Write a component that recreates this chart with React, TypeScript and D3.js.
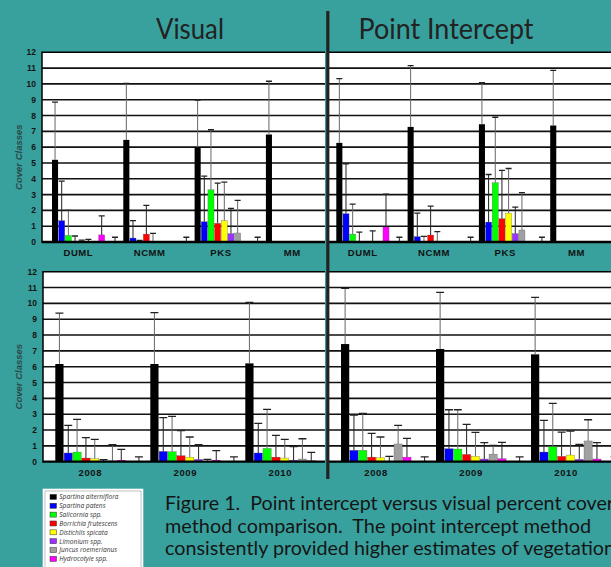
import * as d3 from 'd3'

// species shown in the legend, plus two unnamed slots Excel left in each cluster
const SPECIES = [
  'Spartina alterniflora',
  'Spartina patens',
  'Salicornia spp.',
  'Borrichia frutescens',
  'Distichlis spicata',
  'Limonium spp.',
  'Juncus roemerianus',
  'Hydrocotyle spp.',
]
const SLOTS = [...SPECIES, 'slot9', 'slot10']
const COLORS = ['#000000', '#0000ff', '#00ff00', '#ff0000', '#ffff00', '#9933ff', '#a0a0a0', '#ff00ff', 'none', 'none']

const SITES = ['DUML', 'NCMM', 'PKS', 'MM']
const YEARS = ['2008', '2009', '2010']
const Y_TICKS = [0, 1, 2, 3, 4, 5, 6, 7, 8, 9, 10, 11, 12]

// mean cover class per group x slot
const VISUAL_SITE_MEAN = [
  [5.2, 1.35, 0.42, 0.02, 0.03, 0.03, 0, 0.45, 0, 0],
  [6.46, 0.25, 0, 0.5, 0, 0, 0, 0, 0, 0],
  [6.0, 1.28, 3.3, 1.18, 1.35, 0.53, 0.57, 0, 0, 0],
  [6.8, 0, 0, 0, 0, 0, 0, 0, 0, 0],
]
const VISUAL_SITE_SD = [
  [3.65, 2.5, 1.58, 0.36, 0.09, 0.14, 0, 1.2, 0, 0.3],
  [3.58, 1.1, 0.1, 1.82, 0.55, 0, 0, 0, 0, 0.3],
  [2.97, 2.89, 3.8, 2.55, 2.44, 1.6, 2.06, 0, 0, 0.3],
  [3.37, 0, 0, 0, 0, 0, 0, 0, 0, 0],
]
const POINT_SITE_MEAN = [
  [6.27, 1.79, 0.5, 0.02, 0, 0.04, 0, 0.95, 0, 0],
  [7.28, 0.34, 0, 0.44, 0.02, 0, 0, 0, 0, 0],
  [7.45, 1.26, 3.75, 1.47, 1.83, 0.53, 0.76, 0, 0, 0],
  [7.37, 0, 0, 0, 0, 0, 0, 0, 0, 0],
]
const POINT_SITE_SD = [
  [4.07, 3.16, 1.9, 0.61, 0, 0.66, 0, 2.08, 0, 0.3],
  [3.88, 1.49, 0.36, 1.83, 0.63, 0, 0, 0, 0, 0.3],
  [2.63, 3.01, 4.14, 3.06, 2.82, 1.68, 2.36, 0, 0, 0.3],
  [3.49, 0, 0, 0, 0, 0, 0, 0, 0, 0],
]
const VISUAL_YEAR_MEAN = [
  [6.17, 0.55, 0.61, 0.23, 0.19, 0.05, 0.05, 0.1, 0, 0],
  [6.17, 0.65, 0.63, 0.38, 0.29, 0.15, 0.03, 0.1, 0, 0],
  [6.21, 0.55, 0.84, 0.29, 0.23, 0.1, 0.17, 0.06, 0, 0],
]
const VISUAL_YEAR_SD = [
  [3.22, 1.74, 2.06, 1.29, 1.22, 0.08, 1.02, 0.68, 0, 0.3],
  [3.24, 2.13, 2.23, 1.58, 1.27, 0.92, 0.12, 0.6, 0, 0.3],
  [3.85, 1.87, 2.47, 1.37, 1.18, 0.85, 1.28, 0.53, 0, 0.3],
]
const POINT_YEAR_MEAN = [
  [7.43, 0.72, 0.72, 0.29, 0.25, 0, 1.12, 0.29, 0, 0],
  [7.12, 0.82, 0.8, 0.46, 0.34, 0.17, 0.48, 0.19, 0, 0],
  [6.78, 0.61, 0.95, 0.34, 0.42, 0.15, 1.31, 0.17, 0, 0],
]
const POINT_YEAR_SD = [
  [3.52, 2.23, 2.33, 1.5, 1.31, 0.34, 1.17, 1.18, 0, 0.3],
  [3.57, 2.46, 2.48, 1.9, 1.51, 1.03, 0.55, 1.03, 0, 0.3],
  [3.6, 2.0, 2.73, 1.53, 1.52, 0.94, 1.34, 1.03, 0, 0.3],
]

const CAPTION = [
  'Figure 1.  Point intercept versus visual percent cover',
  'method comparison.  The point intercept method',
  'consistently provided higher estimates of vegetation',
]
const CAPTION_WIDTHS = [449, 426, 450]

const BG = '#38a19e'
const SANS = '"Liberation Sans", Arial, sans-serif'
const TITLE_FONT = 'Lato, "Open Sans", sans-serif'

interface PanelProps {
  id: string
  left: number
  right: number
  top: number
  bottom: number
  firstBar: number
  step: number
  padding: number
  groups: string[]
  means: number[][]
  sds: number[][]
  yAxis: boolean
  labelY: number
}

function Panel({ id, left, right, top, bottom, firstBar, step, padding, groups, means, sds, yAxis, labelY }: PanelProps) {
  const y = d3.scaleLinear().domain([0, 12]).range([bottom, top])
  const outer = padding / 2
  const start = firstBar - outer * step
  const x = d3.scaleBand<string>()
    .domain(groups)
    .range([start, start + groups.length * step])
    .paddingInner(padding)
    .paddingOuter(outer)
  const xs = d3.scaleBand<string>().domain(SLOTS).range([0, x.bandwidth()])
  const bw = xs.bandwidth()

  return (
    <g>
      <defs>
        <clipPath id={id}>
          <rect x={left} y={top - 5} width={right - left} height={bottom - top + 5} />
        </clipPath>
      </defs>
      <rect x={left} y={top} width={right - left} height={bottom - top} fill="#ffffff" />
      {/* horizontal grid at every cover class */}
      <path
        d={Y_TICKS.filter(t => t > 0 && t < 12).map(t => `M${left},${y(t)}H${right}`).join('')}
        fill="none" stroke="#111111" strokeWidth={1.6} />
      <g clipPath={`url(#${id})`}>
        {groups.map((g, gi) => (
          <g key={g} transform={`translate(${x(g)},0)`}>
            {SLOTS.map((s, si) => {
              const m = means[gi][si]
              if (m <= 0 || COLORS[si] === 'none') return null
              return (
                <rect key={s} x={xs(s)! + 0.3} width={bw - 0.6} y={y(m)} height={y(0) - y(m)}
                  fill={COLORS[si]} stroke={si === 0 ? 'none' : '#555'} strokeWidth={0.3} />
              )
            })}
            {SLOTS.map((s, si) => {
              const m = means[gi][si]
              const sd = sds[gi][si]
              if (sd <= 0) return null
              const cx = xs(s)! + bw / 2
              return (
                <g key={s}>
                  <line x1={cx} x2={cx} y1={y(m)} y2={y(m + sd)} stroke={si % 2 ? '#222' : '#666'} strokeWidth={1} />
                  <line x1={cx - bw * 0.45} x2={cx + bw * 0.45} y1={y(m + sd)} y2={y(m + sd)} stroke="#222" strokeWidth={1.3} />
                </g>
              )
            })}
          </g>
        ))}
      </g>
      <path d={`M${left},${top}H${right}`} stroke="#000000" strokeWidth={1.5} fill="none" />
      <path d={`M${left},${bottom}H${right}`} stroke="#000000" strokeWidth={2.3} fill="none" />
      {yAxis && (
        <g>
          <path d={`M${left},${top - 0.7}V${bottom + 1.1}`} stroke="#000000" strokeWidth={1.5} fill="none" />
          {Y_TICKS.map(t => (
            <text key={t} x={left - 6} y={y(t)} dy="0.35em" textAnchor="end" fontFamily={SANS}
              fontWeight="bold" fontSize={8.5} fill="#151515">{t}</text>
          ))}
          <text transform={`translate(22,${(top + bottom) / 2 + 10}) rotate(-90)`} textAnchor="middle"
            fontFamily={SANS} fontStyle="italic" fontWeight="bold" fontSize={9.5} fill="#2a4948">Cover Classes</text>
        </g>
      )}
      {groups.map(g => (
        <text key={g} x={x(g)! + x.bandwidth() * 0.4} y={labelY} textAnchor="middle" fontFamily={SANS}
          fontWeight="bold" fontSize={9.5} letterSpacing={0.6} fill="#111">{g}</text>
      ))}
    </g>
  )
}

export default function App() {
  const legendRows = d3.scaleLinear().domain([0, SPECIES.length - 1]).range([497, 559])
  return (
    <svg width={611} height={567} style={{ position: 'absolute', left: 0, top: 0 }}>
      <rect width={611} height={567} fill={BG} />
      <text x={156} y={39} fontFamily={TITLE_FONT} fontSize={28} fill="#222" textLength={68} lengthAdjust="spacingAndGlyphs">Visual</text>
      <text x={358.5} y={39} fontFamily={TITLE_FONT} fontSize={28} fill="#222" textLength={175} lengthAdjust="spacingAndGlyphs">Point Intercept</text>

      <Panel id="c1" left={42} right={325} top={52.3} bottom={242} firstBar={51.7} step={71.3} padding={0.065}
        groups={SITES} means={VISUAL_SITE_MEAN} sds={VISUAL_SITE_SD} yAxis labelY={255.5} />
      <Panel id="c2" left={329} right={611} top={52.3} bottom={242} firstBar={336} step={71.3} padding={0.065}
        groups={SITES} means={POINT_SITE_MEAN} sds={POINT_SITE_SD} yAxis={false} labelY={255.5} />
      <Panel id="c3" left={43} right={325} top={271.7} bottom={461.7} firstBar={55} step={95} padding={0.07}
        groups={YEARS} means={VISUAL_YEAR_MEAN} sds={VISUAL_YEAR_SD} yAxis labelY={475.5} />
      <Panel id="c4" left={329} right={611} top={271.7} bottom={461.7} firstBar={340.7} step={95} padding={0.07}
        groups={YEARS} means={POINT_YEAR_MEAN} sds={POINT_YEAR_SD} yAxis={false} labelY={475.5} />

      <line x1={327.8} x2={327.8} y1={11} y2={479} stroke="#222" strokeWidth={3.2} />

      <rect x={42.7} y={488.7} width={100.6} height={90} fill="#fff" />
      <rect x={45} y={491} width={96} height={90} fill="none" stroke="#999" strokeWidth={0.6} />
      {SPECIES.map((s, i) => (
        <g key={s}>
          <rect x={50} y={legendRows(i) - 2.6} width={6.5} height={5} fill={COLORS[i]} stroke="#333" strokeWidth={0.5} />
          <text x={59.3} y={legendRows(i)} dy="0.35em" fontFamily={'"Open Sans", sans-serif'} fontStyle="italic"
            fontSize={6.6} fill="#333">{s}</text>
        </g>
      ))}

      {CAPTION.map((line, i) => (
        <text key={i} x={165} y={510 + i * 22.5} fontFamily={TITLE_FONT} fontSize={19.5} fill="#151515"
          style={{ whiteSpace: 'pre' }} textLength={CAPTION_WIDTHS[i]} lengthAdjust="spacingAndGlyphs">{line}</text>
      ))}
    </svg>
  )
}
